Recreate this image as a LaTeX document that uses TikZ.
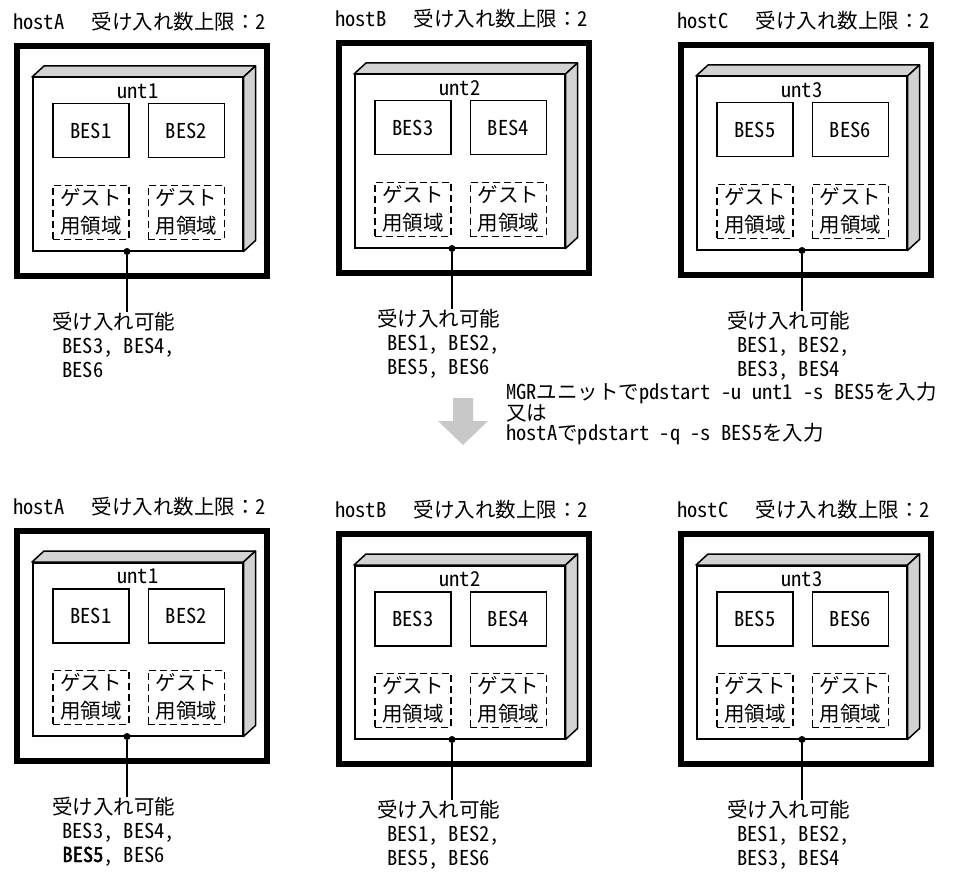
\documentclass[tikz,border=0pt]{standalone}
\usepackage{fontspec}
\setmainfont{Noto Sans CJK JP}[RawFeature=+hwid, AutoFakeBold=2]
\newfontfamily\jpfw{Noto Sans CJK JP}
\usetikzlibrary{positioning}
\definecolor{facegray}{HTML}{D2D2D2}
\definecolor{arrowgray}{HTML}{C8C8C8}

\begin{document}
\begin{tikzpicture}[x=1pt, y=-1pt,
        font=\fontsize{20.5}{24}\selectfont,
        hostbox/.style={draw, line width=6pt, minimum width=250pt, minimum height=230pt,
                        anchor=north west},
        untbox/.style={draw, fill=white, line width=1.5pt, minimum width=210pt,
                       minimum height=173pt, anchor=north west},
        face/.style={draw, fill=facegray, line width=1.5pt, line join=round},
        besbox/.style={draw, line width=1.5pt, minimum width=76pt, minimum height=54pt,
                       inner sep=0pt},
        guest/.style={besbox, dash pattern=on 7pt off 4pt, align=center,
                      font=\fontsize{20.5}{28}\selectfont},
        dot/.style={circle, fill, inner sep=0pt, minimum size=7pt},
        avail/.style={anchor=north west, align=left, inner sep=0pt},
    ]
    \useasboundingbox (0,0) rectangle (961,872);

    \foreach \n/\px/\py/\host/\unt/\bsa/\bsb/\dx/\avl in {
        a1/14/43/hostA/unt1/BES1/BES2/95/{\hspace*{.5em}BES3, BES4,\\\hspace*{.5em}BES6},
        b1/336/40/hostB/unt2/BES3/BES4/98/{\hspace*{.5em}BES1, BES2,\\\hspace*{.5em}BES5, BES6},
        c1/678/42/hostC/unt3/BES5/BES6/106/{\hspace*{.5em}BES1, BES2,\\\hspace*{.5em}BES3, BES4},
        a2/14/528/hostA/unt1/BES1/BES2/95/{\hspace*{.5em}BES3, BES4,\\\hspace*{.5em}\textbf{BES5}, BES6},
        b2/336/531/hostB/unt2/BES3/BES4/98/{\hspace*{.5em}BES1, BES2,\\\hspace*{.5em}BES5, BES6},
        c2/678/531/hostC/unt3/BES5/BES6/106/{\hspace*{.5em}BES1, BES2,\\\hspace*{.5em}BES3, BES4}}
    {
        \node[anchor=west, inner sep=0pt] (title\n) at (\px-1,\py-21)
            {\host\hspace{7pt}{\jpfw　受け入れ数上限：}2};
        \node[hostbox] (host\n) at (\px,\py) {};
        \node[untbox] (unt\n) at (\px+18,\py+34) {};
        \draw[face] (unt\n.north west) -- ++(12,-11) -- ([shift={(12,-11)}]unt\n.north east)
            -- (unt\n.north east) -- cycle;
        \draw[face] (unt\n.north east) -- ++(12,-11) -- ([shift={(12,-11)}]unt\n.south east)
            -- (unt\n.south east) -- cycle;
        \node (name\n) at ([yshift=-14pt]unt\n.north) {\unt};
        \node[besbox, anchor=north west] (bsa\n) at ([shift={(20,26)}]unt\n.north west) {\bsa};
        \node[besbox, right=18pt of bsa\n] (bsb\n) {\bsb};
        \node[guest, below=26pt of bsa\n] (gsa\n) {ゲスト\\用領域};
        \node[guest, below=26pt of bsb\n] (gsb\n) {ゲスト\\用領域};
        \node[dot] (dot\n) at ([xshift=\dx pt]unt\n.south west) {};
        \node[avail] (avl\n) at ([shift={(-75,60)}]dot\n) {受け入れ可能\\\avl};
        \draw[line width=1.5pt] (dot\n) -- (dot\n |- avl\n.north);
    }

    % step between the two states
    \fill[arrowgray] (453,398) -- (473,398) -- (473,421) -- (488,421) -- (463,445)
        -- (438,421) -- (453,421) -- cycle;
    \node[anchor=west, align=left, inner sep=0pt, font=\fontsize{20.5}{20}\selectfont] (cmd)
        at (506,414) {MGRユニットでpdstart -u unt1 -s BES5を入力\\又は\\hostAでpdstart -q -s BES5を入力};
\end{tikzpicture}
\end{document}
